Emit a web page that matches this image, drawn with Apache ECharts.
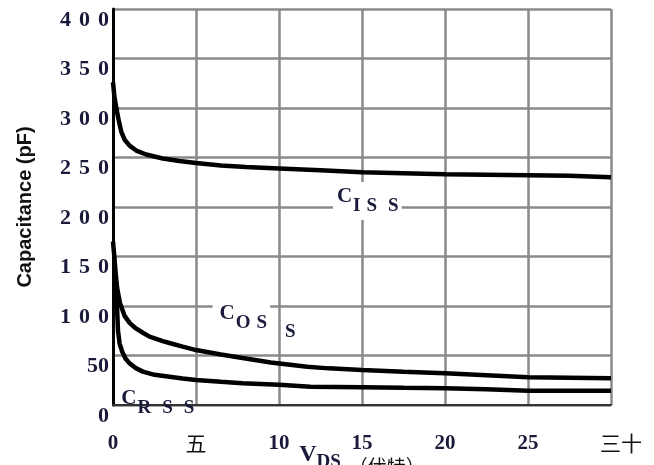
<!DOCTYPE html>
<html><head><meta charset="utf-8">
<script src="https://cdn.jsdelivr.net/npm/echarts@6/dist/echarts.min.js"></script>
<style>html,body{margin:0;padding:0;background:#fff}#c{width:654px;height:465px}</style>
</head><body><div id="c"></div>
<script>
// Tick labels
const xTickLabels = ['0', '五', '10', '15', '20', '25', '三十'];
const yTickLabels = ['0', '50', '1 0 0', '1 5 0', '2 0 0', '2 5 0', '3 0 0', '3 5 0', '4 0 0'];

// C_ISS
const vdsIss = [0, 0.08, 0.2, 0.35, 0.5, 0.7, 1, 1.4, 2, 3, 4, 5, 6.5, 8, 10, 12.5, 15, 17.5, 20, 22.5, 25, 27.5, 30];
const ciss   = [326, 312, 300, 287, 276, 268, 262, 257, 253, 249, 246.5, 244.5, 242, 240.5, 239, 237, 235, 234, 233, 232.5, 232, 231.5, 230];

// C_OSS
const vdsOss = [0, 0.08, 0.15, 0.25, 0.42, 0.7, 1, 1.33, 1.8, 2.2, 3, 3.4, 4.2, 5, 6.5, 7.8, 9.5, 11.7, 13, 15, 17.5, 20, 22.5, 25, 27.5, 30];
const coss   = [165, 150, 135, 118, 103, 90, 83, 78, 73, 69, 64.5, 62.6, 59, 55.5, 51, 47.5, 43, 38.7, 37, 35.4, 33.5, 32, 30, 28, 27.5, 27];

// C_RSS
const vdsRss = [0.12, 0.2, 0.3, 0.4, 0.55, 0.75, 1, 1.4, 1.8, 2.5, 3.4, 4.2, 5, 6.5, 7.8, 10, 11.9, 15, 17.5, 20, 22.5, 25, 27.5, 30];
const crss   = [125, 118, 75, 62, 54, 47, 42, 37, 33.7, 30.5, 28.6, 26.8, 25.3, 23.5, 22, 20.5, 18.5, 17.9, 17.3, 16.8, 16, 14.5, 14.4, 14.4];

// Curve annotations: [x, y] anchor (left-middle of label)
const issLabelAt = [13.25, 206];
const ossLabelAt = [6.0, 88];
const ossLabel2At = [10.3, 79];
const rssLabelAt = [0.5, 2];

const zip = (xs, ys) => xs.map((x, i) => [x, ys[i]]);
const serif = 'Liberation Serif';
const cjk = 'Noto Sans CJK SC';
const ink = '#1a1a3a';

const subRich = {
  c:  {fontFamily: serif, fontWeight: 'bold', fontSize: 21, color: ink, verticalAlign: 'top'},
  s0: {fontFamily: serif, fontWeight: 'bold', fontSize: 19, color: ink, verticalAlign: 'top', padding: [11, 0, 0, 1]},
  s1: {fontFamily: serif, fontWeight: 'bold', fontSize: 19, color: ink, verticalAlign: 'top', padding: [11, 0, 0, 6]},
  s2: {fontFamily: serif, fontWeight: 'bold', fontSize: 19, color: ink, verticalAlign: 'top', padding: [11, 0, 0, 11]}
};

function mp(coord, text, bg, padding) {
  return {
    coord: coord,
    symbol: 'circle', symbolSize: 0,
    label: {
      show: true, position: 'right', distance: 0,
      formatter: text,
      backgroundColor: bg || 'transparent',
      padding: padding || 0,
      rich: subRich
    }
  };
}

const lineStyle = {color: '#000', width: 4.5};

const chart = echarts.init(document.getElementById('c'), null, {renderer: 'canvas'});
chart.setOption({
  animation: false,
  backgroundColor: '#fff',
  grid: {left: 113, right: 43, top: 9, bottom: 60, containLabel: false, outerBoundsMode: 'none'},
  xAxis: {
    type: 'value', min: 0, max: 30, interval: 5,
    axisLine: {show: true, onZero: false, lineStyle: {color: '#333', width: 2}},
    axisTick: {show: false},
    splitLine: {show: true, lineStyle: {color: '#8a8a8a', width: 2.5}},
    axisLabel: {
      margin: 28,
      formatter: v => {
        const s = xTickLabels[Math.round(v / 5)];
        if (s === '三十') return '{r|' + s + '}';
        if (s === '五') return '{k|' + s + '}';
        return '{n|' + s + '}';
      },
      rich: {
        n: {fontFamily: serif, fontWeight: 'bold', fontSize: 21, color: ink},
        k: {fontFamily: cjk, fontSize: 21, color: '#111'},
        r: {fontFamily: cjk, fontSize: 21, color: '#111', padding: [0, 0, 0, 20]}
      }
    },
    name: '{v|V}{ds|DS}{p|（伏特）}',
    nameLocation: 'middle', nameGap: 38, nameMoveOverlap: false,
    nameTextStyle: {
      rich: {
        v:  {fontFamily: serif, fontWeight: 'bold', fontSize: 24, color: ink, verticalAlign: 'top'},
        ds: {fontFamily: serif, fontWeight: 'bold', fontSize: 19, color: ink, verticalAlign: 'top', padding: [10, 0, 0, 0]},
        p:  {fontFamily: cjk, fontSize: 19, color: '#111', verticalAlign: 'top', padding: [14, 0, 0, 8]}
      }
    }
  },
  yAxis: {
    type: 'value', min: 0, max: 400, interval: 50,
    axisLine: {show: true, onZero: false, lineStyle: {color: '#000', width: 3}},
    axisTick: {show: false},
    splitLine: {show: true, lineStyle: {color: '#8a8a8a', width: 2.5}},
    axisLabel: {
      margin: 4,
      verticalAlign: 'top',
      formatter: v => {
        const s = yTickLabels[Math.round(v / 50)];
        return s.split(' ').map(d => '{d|' + d + '}').join('{g| }');
      },
      rich: {
        d: {fontFamily: serif, fontWeight: 'bold', fontSize: 22, color: ink},
        g: {width: 8, fontSize: 22}
      }
    },
    name: 'Capacitance (pF)',
    nameLocation: 'middle', nameRotate: 90, nameGap: 78, nameMoveOverlap: false,
    nameTextStyle: {fontFamily: 'Liberation Sans', fontWeight: 'bold', fontSize: 20, color: '#111'}
  },
  series: [
    {
      name: 'CISS', type: 'line', data: zip(vdsIss, ciss), showSymbol: false, lineStyle: lineStyle, z: 3,
      markPoint: {z: 5, data: [mp(issLabelAt, '{c|C}{s0|I}{s1|S}{s2|S}', '#fff', [4, 3, 4, 4])]}
    },
    {
      name: 'COSS', type: 'line', data: zip(vdsOss, coss), showSymbol: false, lineStyle: lineStyle, z: 3,
      markPoint: {z: 5, data: [
        mp(ossLabelAt, '{c|C}{s0|O}{s1|S}', '#fff', [4, 3, 4, 7]),
        mp(ossLabel2At, '{s0|S}')
      ]}
    },
    {
      name: 'CRSS', type: 'line', data: zip(vdsRss, crss), showSymbol: false, lineStyle: lineStyle, z: 3,
      markPoint: {z: 5, data: [mp(rssLabelAt, '{c|C}{s0|R}{s2|S}{s2|S}')]}
    }
  ]
});
</script>
</body></html>
